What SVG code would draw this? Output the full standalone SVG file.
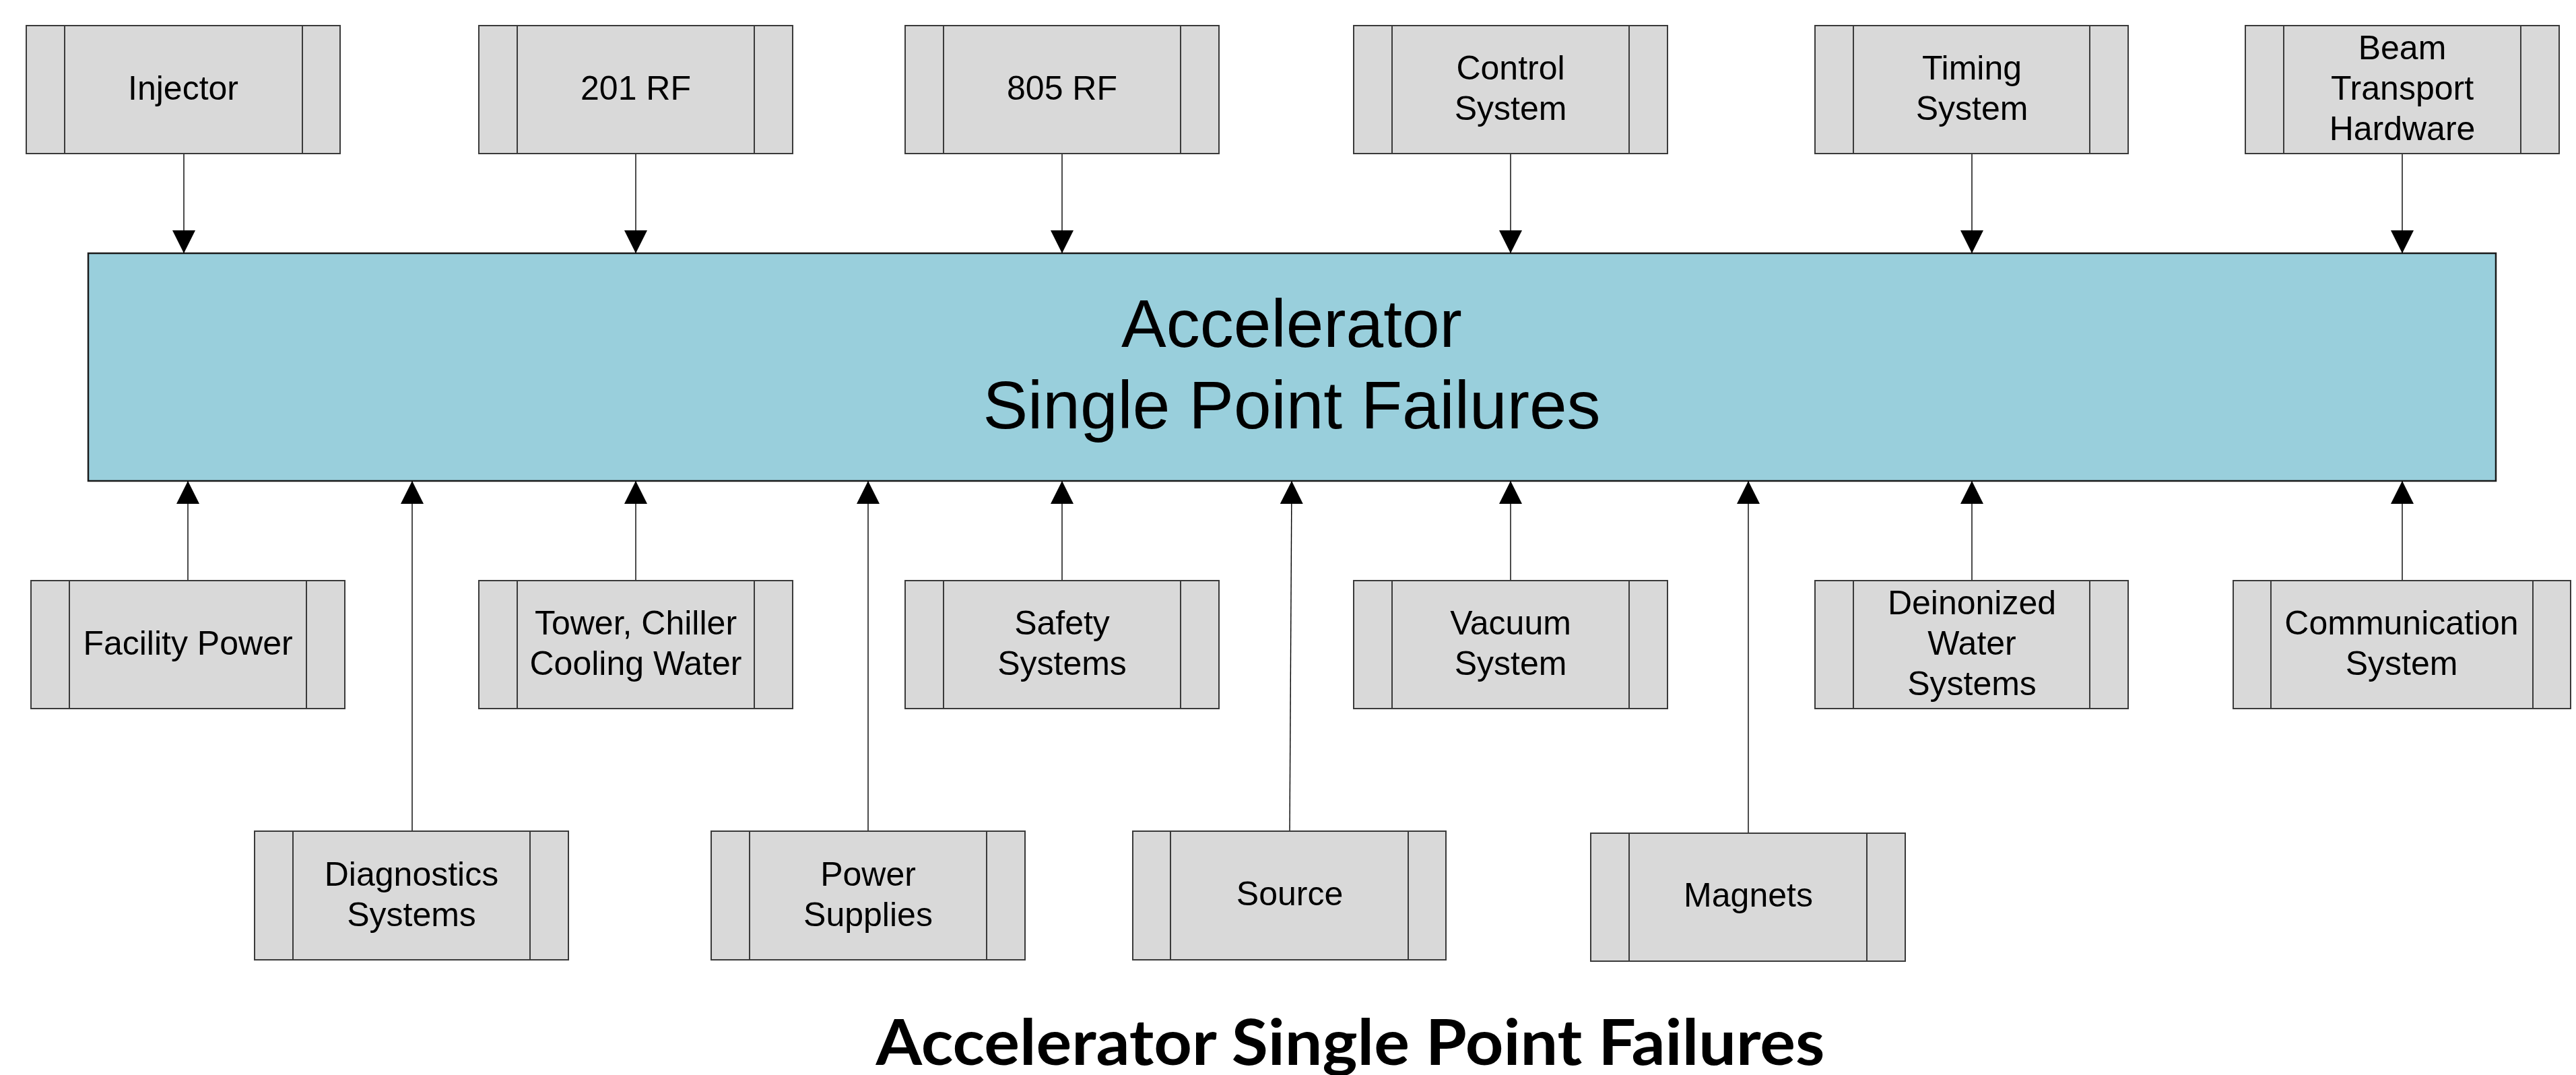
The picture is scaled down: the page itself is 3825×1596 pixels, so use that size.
<svg xmlns="http://www.w3.org/2000/svg" width="3825" height="1596" viewBox="0 0 3825 1596">
  <style>
    .box { fill: #D9D9D9; stroke: #3a3a3a; stroke-width: 2; }
    .band { stroke: #3a3a3a; stroke-width: 2; }
    .lbl { font-family: "Liberation Sans", Arial, sans-serif; font-size: 50px; fill: #000; text-anchor: middle; }
    .main { fill: #99CFDC; stroke: #1a1a1a; stroke-width: 2.5; }
    .mainlbl { font-family: "Liberation Sans", Arial, sans-serif; font-size: 100px; fill: #000; text-anchor: middle; }
    .title { font-family: Lato, "Open Sans", sans-serif; font-weight: bold; font-size: 94px; fill: #000; text-anchor: middle; }
    .link { stroke: #000; stroke-width: 1.4; fill: none; marker-end: url(#arrow); }
  </style>
  <defs>
    <marker id="arrow" markerUnits="userSpaceOnUse" markerWidth="34" markerHeight="34" refX="34" refY="17" orient="auto">
      <path d="M0,0 L34,17 L0,34 z" fill="#000"/>
    </marker>
  </defs>

  <!-- central block -->
  <g id="accelerator">
    <rect class="main" x="131" y="376" width="3575" height="338"/>
    <text class="mainlbl" x="1918" y="515">Accelerator</text>
    <text class="mainlbl" x="1918" y="636">Single Point Failures</text>
  </g>

  <!-- connectors -->
  <g id="connectors">
    <line class="link" x1="273" y1="228" x2="273" y2="376"/>
    <line class="link" x1="944" y1="228" x2="944" y2="376"/>
    <line class="link" x1="1577" y1="228" x2="1577" y2="376"/>
    <line class="link" x1="2243" y1="228" x2="2243" y2="376"/>
    <line class="link" x1="2928" y1="228" x2="2928" y2="376"/>
    <line class="link" x1="3567" y1="228" x2="3567" y2="376"/>

    <line class="link" x1="279" y1="862" x2="279" y2="714"/>
    <line class="link" x1="944" y1="862" x2="944" y2="714"/>
    <line class="link" x1="1577" y1="862" x2="1577" y2="714"/>
    <line class="link" x1="2243" y1="862" x2="2243" y2="714"/>
    <line class="link" x1="2928" y1="862" x2="2928" y2="714"/>
    <line class="link" x1="3567" y1="862" x2="3567" y2="714"/>

    <line class="link" x1="612" y1="1234" x2="612" y2="714"/>
    <line class="link" x1="1289" y1="1234" x2="1289" y2="714"/>
    <line class="link" x1="1915" y1="1234" x2="1918" y2="714"/>
    <line class="link" x1="2596" y1="1237" x2="2596" y2="714"/>
  </g>

  <!-- top row -->
  <g id="injector">
    <rect class="box" x="39" y="38" width="466" height="190"/>
    <line class="band" x1="96" y1="38" x2="96" y2="228"/><line class="band" x1="449" y1="38" x2="449" y2="228"/>
    <text class="lbl" x="272" y="148">Injector</text>
  </g>
  <g id="rf201">
    <rect class="box" x="711" y="38" width="466" height="190"/>
    <line class="band" x1="768" y1="38" x2="768" y2="228"/><line class="band" x1="1120" y1="38" x2="1120" y2="228"/>
    <text class="lbl" x="944" y="148">201 RF</text>
  </g>
  <g id="rf805">
    <rect class="box" x="1344" y="38" width="466" height="190"/>
    <line class="band" x1="1401" y1="38" x2="1401" y2="228"/><line class="band" x1="1753" y1="38" x2="1753" y2="228"/>
    <text class="lbl" x="1577" y="148">805 RF</text>
  </g>
  <g id="control-system">
    <rect class="box" x="2010" y="38" width="466" height="190"/>
    <line class="band" x1="2067" y1="38" x2="2067" y2="228"/><line class="band" x1="2419" y1="38" x2="2419" y2="228"/>
    <text class="lbl" x="2243" y="118">Control</text>
    <text class="lbl" x="2243" y="178">System</text>
  </g>
  <g id="timing-system">
    <rect class="box" x="2695" y="38" width="465" height="190"/>
    <line class="band" x1="2752" y1="38" x2="2752" y2="228"/><line class="band" x1="3103" y1="38" x2="3103" y2="228"/>
    <text class="lbl" x="2928" y="118">Timing</text>
    <text class="lbl" x="2928" y="178">System</text>
  </g>
  <g id="beam-transport">
    <rect class="box" x="3334" y="38" width="466" height="190"/>
    <line class="band" x1="3391" y1="38" x2="3391" y2="228"/><line class="band" x1="3743" y1="38" x2="3743" y2="228"/>
    <text class="lbl" x="3567" y="88">Beam</text>
    <text class="lbl" x="3567" y="148">Transport</text>
    <text class="lbl" x="3567" y="208">Hardware</text>
  </g>

  <!-- middle row -->
  <g id="facility-power">
    <rect class="box" x="46" y="862" width="466" height="190"/>
    <line class="band" x1="103" y1="862" x2="103" y2="1052"/><line class="band" x1="455" y1="862" x2="455" y2="1052"/>
    <text class="lbl" x="279" y="972">Facility Power</text>
  </g>
  <g id="cooling-water">
    <rect class="box" x="711" y="862" width="466" height="190"/>
    <line class="band" x1="768" y1="862" x2="768" y2="1052"/><line class="band" x1="1120" y1="862" x2="1120" y2="1052"/>
    <text class="lbl" x="944" y="942">Tower, Chiller</text>
    <text class="lbl" x="944" y="1002">Cooling Water</text>
  </g>
  <g id="safety-systems">
    <rect class="box" x="1344" y="862" width="466" height="190"/>
    <line class="band" x1="1401" y1="862" x2="1401" y2="1052"/><line class="band" x1="1753" y1="862" x2="1753" y2="1052"/>
    <text class="lbl" x="1577" y="942">Safety</text>
    <text class="lbl" x="1577" y="1002">Systems</text>
  </g>
  <g id="vacuum-system">
    <rect class="box" x="2010" y="862" width="466" height="190"/>
    <line class="band" x1="2067" y1="862" x2="2067" y2="1052"/><line class="band" x1="2419" y1="862" x2="2419" y2="1052"/>
    <text class="lbl" x="2243" y="942">Vacuum</text>
    <text class="lbl" x="2243" y="1002">System</text>
  </g>
  <g id="di-water">
    <rect class="box" x="2695" y="862" width="465" height="190"/>
    <line class="band" x1="2752" y1="862" x2="2752" y2="1052"/><line class="band" x1="3103" y1="862" x2="3103" y2="1052"/>
    <text class="lbl" x="2928" y="912">Deinonized</text>
    <text class="lbl" x="2928" y="972">Water</text>
    <text class="lbl" x="2928" y="1032">Systems</text>
  </g>
  <g id="communication-system">
    <rect class="box" x="3316" y="862" width="501" height="190"/>
    <line class="band" x1="3372" y1="862" x2="3372" y2="1052"/><line class="band" x1="3761" y1="862" x2="3761" y2="1052"/>
    <text class="lbl" x="3566" y="942">Communication</text>
    <text class="lbl" x="3566" y="1002">System</text>
  </g>

  <!-- bottom row -->
  <g id="diagnostics">
    <rect class="box" x="378" y="1234" width="466" height="191"/>
    <line class="band" x1="435" y1="1234" x2="435" y2="1425"/><line class="band" x1="787" y1="1234" x2="787" y2="1425"/>
    <text class="lbl" x="611" y="1315">Diagnostics</text>
    <text class="lbl" x="611" y="1375">Systems</text>
  </g>
  <g id="power-supplies">
    <rect class="box" x="1056" y="1234" width="466" height="191"/>
    <line class="band" x1="1113" y1="1234" x2="1113" y2="1425"/><line class="band" x1="1465" y1="1234" x2="1465" y2="1425"/>
    <text class="lbl" x="1289" y="1315">Power</text>
    <text class="lbl" x="1289" y="1375">Supplies</text>
  </g>
  <g id="source">
    <rect class="box" x="1682" y="1234" width="465" height="191"/>
    <line class="band" x1="1738" y1="1234" x2="1738" y2="1425"/><line class="band" x1="2091" y1="1234" x2="2091" y2="1425"/>
    <text class="lbl" x="1915" y="1344">Source</text>
  </g>
  <g id="magnets">
    <rect class="box" x="2362" y="1237" width="467" height="190"/>
    <line class="band" x1="2419" y1="1237" x2="2419" y2="1427"/><line class="band" x1="2772" y1="1237" x2="2772" y2="1427"/>
    <text class="lbl" x="2596" y="1346">Magnets</text>
  </g>

  <!-- caption -->
  <text class="title" x="2005" y="1581" textLength="1409" lengthAdjust="spacingAndGlyphs">Accelerator Single Point Failures</text>
</svg>
